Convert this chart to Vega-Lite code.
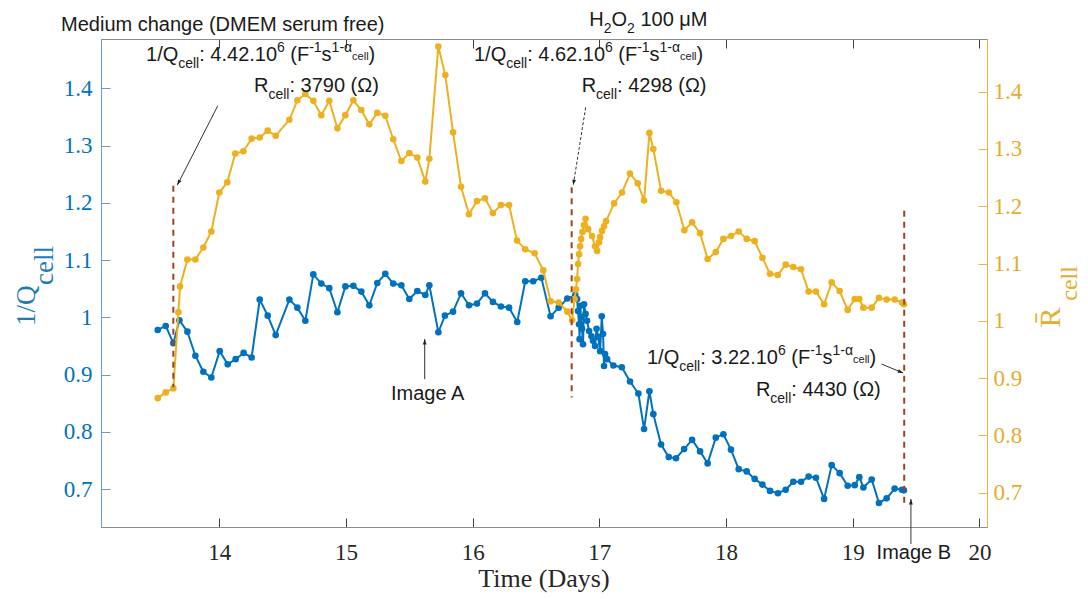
{
"$schema": "https://vega.github.io/schema/vega-lite/v6.json",
"width": 886, "height": 488,
"autosize": {"type": "none"},
"padding": {"left": 101, "top": 39, "right": 101, "bottom": 72},
"background": "white",
"config": {"view": {"stroke": "#8c8c8c", "strokeWidth": 1}, "axis": {"grid": false}},
"datasets": {
"q": [
{"t":13.514,"v":0.978},{"t":13.577,"v":0.985},{"t":13.637,"v":0.955},{"t":13.685,"v":0.995},{"t":13.748,"v":0.975},{"t":13.811,"v":0.933},{"t":13.874,"v":0.905},{"t":13.937,"v":0.895},{"t":14.003,"v":0.941},{"t":14.066,"v":0.918},{"t":14.129,"v":0.927},{"t":14.192,"v":0.938},{"t":14.255,"v":0.930},{"t":14.319,"v":1.031},{"t":14.382,"v":1.003},{"t":14.445,"v":0.969},{"t":14.553,"v":1.031},{"t":14.616,"v":1.017},{"t":14.679,"v":0.994},{"t":14.742,"v":1.075},{"t":14.805,"v":1.059},{"t":14.868,"v":1.051},{"t":14.932,"v":1.009},{"t":14.995,"v":1.054},{"t":15.058,"v":1.055},{"t":15.121,"v":1.045},{"t":15.184,"v":1.021},{"t":15.247,"v":1.060},{"t":15.310,"v":1.076},{"t":15.373,"v":1.059},{"t":15.437,"v":1.056},{"t":15.500,"v":1.032},{"t":15.563,"v":1.046},{"t":15.626,"v":1.039},{"t":15.658,"v":1.056},{"t":15.729,"v":0.974},{"t":15.781,"v":1.003},{"t":15.845,"v":1.010},{"t":15.908,"v":1.042},{"t":15.971,"v":1.021},{"t":16.034,"v":1.024},{"t":16.097,"v":1.042},{"t":16.160,"v":1.027},{"t":16.223,"v":1.019},{"t":16.287,"v":1.017},{"t":16.352,"v":0.992},{"t":16.415,"v":1.063},{"t":16.478,"v":1.063},{"t":16.542,"v":1.069},{"t":16.615,"v":1.002},{"t":16.679,"v":1.017},{"t":16.747,"v":1.033},{"t":16.810,"v":1.039},{"t":16.824,"v":1.032},{"t":16.832,"v":1.011},{"t":16.840,"v":0.988},{"t":16.844,"v":0.962},{"t":16.848,"v":1.020},{"t":16.856,"v":1.000},{"t":16.863,"v":0.980},{"t":16.871,"v":0.953},{"t":16.879,"v":1.023},{"t":16.891,"v":1.006},{"t":16.903,"v":0.994},{"t":16.919,"v":0.976},{"t":16.938,"v":0.967},{"t":16.950,"v":0.959},{"t":16.966,"v":0.950},{"t":16.978,"v":0.980},{"t":16.990,"v":0.966},{"t":17.006,"v":0.941},{"t":17.019,"v":1.002},{"t":17.029,"v":0.971},{"t":17.037,"v":0.915},{"t":17.045,"v":0.936},{"t":17.061,"v":0.927},{"t":17.111,"v":0.916},{"t":17.177,"v":0.913},{"t":17.242,"v":0.888},{"t":17.308,"v":0.867},{"t":17.353,"v":0.805},{"t":17.395,"v":0.871},{"t":17.426,"v":0.831},{"t":17.487,"v":0.778},{"t":17.548,"v":0.756},{"t":17.605,"v":0.754},{"t":17.669,"v":0.770},{"t":17.732,"v":0.786},{"t":17.795,"v":0.766},{"t":17.855,"v":0.745},{"t":17.919,"v":0.790},{"t":17.979,"v":0.796},{"t":18.039,"v":0.769},{"t":18.100,"v":0.735},{"t":18.163,"v":0.731},{"t":18.226,"v":0.718},{"t":18.287,"v":0.708},{"t":18.347,"v":0.697},{"t":18.410,"v":0.693},{"t":18.471,"v":0.699},{"t":18.531,"v":0.713},{"t":18.592,"v":0.713},{"t":18.652,"v":0.722},{"t":18.710,"v":0.720},{"t":18.774,"v":0.683},{"t":18.834,"v":0.742},{"t":18.897,"v":0.728},{"t":18.960,"v":0.706},{"t":19.016,"v":0.707},{"t":19.052,"v":0.721},{"t":19.084,"v":0.703},{"t":19.150,"v":0.717},{"t":19.207,"v":0.676},{"t":19.268,"v":0.684},{"t":19.331,"v":0.701},{"t":19.389,"v":0.699},{"t":19.404,"v":0.698}
],
"r": [
{"t":13.514,"v":0.865},{"t":13.577,"v":0.875},{"t":13.637,"v":0.882},{"t":13.677,"v":1.015},{"t":13.690,"v":1.060},{"t":13.748,"v":1.107},{"t":13.811,"v":1.107},{"t":13.874,"v":1.128},{"t":13.937,"v":1.156},{"t":14.000,"v":1.224},{"t":14.063,"v":1.242},{"t":14.126,"v":1.292},{"t":14.190,"v":1.296},{"t":14.255,"v":1.318},{"t":14.319,"v":1.320},{"t":14.382,"v":1.332},{"t":14.445,"v":1.323},{"t":14.553,"v":1.351},{"t":14.616,"v":1.385},{"t":14.679,"v":1.396},{"t":14.742,"v":1.384},{"t":14.805,"v":1.359},{"t":14.868,"v":1.384},{"t":14.932,"v":1.336},{"t":14.995,"v":1.359},{"t":15.058,"v":1.385},{"t":15.121,"v":1.368},{"t":15.184,"v":1.343},{"t":15.247,"v":1.363},{"t":15.310,"v":1.358},{"t":15.373,"v":1.317},{"t":15.437,"v":1.279},{"t":15.500,"v":1.293},{"t":15.563,"v":1.285},{"t":15.626,"v":1.243},{"t":15.658,"v":1.283},{"t":15.729,"v":1.479},{"t":15.784,"v":1.429},{"t":15.845,"v":1.329},{"t":15.908,"v":1.234},{"t":15.971,"v":1.186},{"t":16.034,"v":1.209},{"t":16.097,"v":1.214},{"t":16.160,"v":1.188},{"t":16.223,"v":1.202},{"t":16.287,"v":1.202},{"t":16.350,"v":1.140},{"t":16.415,"v":1.125},{"t":16.489,"v":1.118},{"t":16.557,"v":1.088},{"t":16.615,"v":1.034},{"t":16.679,"v":1.032},{"t":16.747,"v":1.016},{"t":16.785,"v":1.001},{"t":16.804,"v":1.038},{"t":16.816,"v":1.055},{"t":16.824,"v":1.073},{"t":16.832,"v":1.099},{"t":16.840,"v":1.116},{"t":16.848,"v":1.130},{"t":16.856,"v":1.143},{"t":16.867,"v":1.155},{"t":16.879,"v":1.167},{"t":16.891,"v":1.178},{"t":16.911,"v":1.160},{"t":16.942,"v":1.148},{"t":16.966,"v":1.130},{"t":16.982,"v":1.122},{"t":16.998,"v":1.137},{"t":17.006,"v":1.146},{"t":17.021,"v":1.157},{"t":17.037,"v":1.165},{"t":17.053,"v":1.174},{"t":17.116,"v":1.205},{"t":17.179,"v":1.224},{"t":17.242,"v":1.257},{"t":17.303,"v":1.240},{"t":17.353,"v":1.210},{"t":17.395,"v":1.328},{"t":17.426,"v":1.300},{"t":17.487,"v":1.227},{"t":17.548,"v":1.224},{"t":17.608,"v":1.207},{"t":17.671,"v":1.158},{"t":17.732,"v":1.172},{"t":17.795,"v":1.153},{"t":17.855,"v":1.108},{"t":17.919,"v":1.120},{"t":17.979,"v":1.143},{"t":18.039,"v":1.148},{"t":18.100,"v":1.156},{"t":18.163,"v":1.143},{"t":18.226,"v":1.139},{"t":18.287,"v":1.110},{"t":18.347,"v":1.082},{"t":18.408,"v":1.080},{"t":18.471,"v":1.098},{"t":18.531,"v":1.094},{"t":18.592,"v":1.090},{"t":18.652,"v":1.051},{"t":18.710,"v":1.051},{"t":18.774,"v":1.029},{"t":18.834,"v":1.067},{"t":18.897,"v":1.052},{"t":18.960,"v":1.019},{"t":19.016,"v":1.038},{"t":19.052,"v":1.038},{"t":19.084,"v":1.023},{"t":19.150,"v":1.023},{"t":19.207,"v":1.040},{"t":19.268,"v":1.037},{"t":19.331,"v":1.037},{"t":19.389,"v":1.032},{"t":19.404,"v":1.029}
],
"vl": [
{"x":13.6369,"y":1.2297,"y2":0.878},{"x":16.7814,"y":1.227,"y2":0.860},{"x":19.4065,"y":1.186,"y2":0.671}
],
"arrows": [
{"id":"a1","x":13.9874,"y":1.3693,"x2":13.6685,"y2":1.2309},
{"id":"a2","x":16.8919,"y":1.3666,"x2":16.794,"y2":1.2309},
{"id":"a3","x":19.2281,"y":0.9185,"x2":19.3986,"y2":0.9028},
{"id":"ia","x":15.6212,"y":0.8923,"x2":15.6212,"y2":0.9621},
{"id":"ib","x":19.4594,"y":0.6043,"x2":19.4594,"y2":0.6829}
],
"ann": [
{"x":12.7506,"y":1.4997,"t":"Medium change (DMEM serum free)","k":"main"},
{"x":16.9203,"y":1.509,"t":"H","k":"main"},
{"x":17.0339,"y":1.509,"t":"2","k":"sub"},
{"x":17.0955,"y":1.509,"t":"O","k":"main"},
{"x":17.2186,"y":1.509,"t":"2","k":"sub"},
{"x":17.3241,"y":1.509,"t":"100 μM","k":"main"},
{"x":13.4215,"y":1.4479,"t":"1/Q","k":"main"},
{"x":13.6756,"y":1.4479,"t":"cell","k":"sub"},
{"x":13.8414,"y":1.4479,"t":": 4.42.10","k":"main"},
{"x":14.4554,"y":1.4479,"t":"6","k":"sup"},
{"x":14.5609,"y":1.4479,"t":"(F","k":"main"},
{"x":14.7096,"y":1.4479,"t":"-1","k":"sup"},
{"x":14.8074,"y":1.4479,"t":"s","k":"main"},
{"x":14.8863,"y":1.4479,"t":"1-α","k":"sup"},
{"x":15.0481,"y":1.4479,"t":"cell","k":"subsup"},
{"x":15.1784,"y":1.4479,"t":")","k":"main"},
{"x":14.2739,"y":1.3927,"t":"R","k":"main"},
{"x":14.3875,"y":1.3927,"t":"cell","k":"sub"},
{"x":14.5533,"y":1.3927,"t":": 3790 (Ω)","k":"main"},
{"x":16.0103,"y":1.4474,"t":"1/Q","k":"main"},
{"x":16.2644,"y":1.4474,"t":"cell","k":"sub"},
{"x":16.4302,"y":1.4474,"t":": 4.62.10","k":"main"},
{"x":17.0442,"y":1.4474,"t":"6","k":"sup"},
{"x":17.1497,"y":1.4474,"t":"(F","k":"main"},
{"x":17.2984,"y":1.4474,"t":"-1","k":"sup"},
{"x":17.3962,"y":1.4474,"t":"s","k":"main"},
{"x":17.4751,"y":1.4474,"t":"1-α","k":"sup"},
{"x":17.6369,"y":1.4474,"t":"cell","k":"subsup"},
{"x":17.7672,"y":1.4474,"t":")","k":"main"},
{"x":16.8603,"y":1.3933,"t":"R","k":"main"},
{"x":16.9740,"y":1.3933,"t":"cell","k":"sub"},
{"x":17.1397,"y":1.3933,"t":": 4298 (Ω)","k":"main"},
{"x":17.3757,"y":0.9185,"t":"1/Q","k":"main"},
{"x":17.6298,"y":0.9185,"t":"cell","k":"sub"},
{"x":17.7956,"y":0.9185,"t":": 3.22.10","k":"main"},
{"x":18.4096,"y":0.9185,"t":"6","k":"sup"},
{"x":18.5151,"y":0.9185,"t":"(F","k":"main"},
{"x":18.6638,"y":0.9185,"t":"-1","k":"sup"},
{"x":18.7616,"y":0.9185,"t":"s","k":"main"},
{"x":18.8405,"y":0.9185,"t":"1-α","k":"sup"},
{"x":19.0023,"y":0.9185,"t":"cell","k":"subsup"},
{"x":19.1326,"y":0.9185,"t":")","k":"main"},
{"x":18.2360,"y":0.8632,"t":"R","k":"main"},
{"x":18.3496,"y":0.8632,"t":"cell","k":"sub"},
{"x":18.5154,"y":0.8632,"t":": 4430 (Ω)","k":"main"},
{"x":15.3552,"y":0.8562,"t":"Image A","k":"main"},
{"x":19.1886,"y":0.5781,"t":"Image B","k":"main"},
{"x":16.5627,"y":0.5292,"t":"Time (Days)","k":"xt"},
{"x":12.545,"y":0.9848,"t":"1/Q","k":"lt"},
{"x":12.687,"y":1.0564,"t":"cell","k":"lt"},
{"x":20.635,"y":0.9825,"t":"R̄","k":"rt"},
{"x":20.767,"y":1.029,"t":"cell","k":"rts"}
]
},
"layer": [
{
"data": {"name": "q"},
"mark": {"type": "line", "color": "#0072BD", "strokeWidth": 2, "point": {"filled": true, "size": 44, "color": "#0072BD"}},
"encoding": {
"x": {"field": "t", "type": "quantitative", "scale": {"domain": [13.066, 20.06], "nice": false, "zero": false},
"axis": {"orient": "bottom", "title": null, "values": [14,15,16,17,18,19,20], "labelFont": "Liberation Serif", "labelFontSize": 23, "labelColor": "#262626", "tickSize": -9, "tickColor": "#404040", "domainColor": "#8c8c8c", "labelPadding": 23}},
"y": {"field": "v", "type": "quantitative", "scale": {"domain": [0.634, 1.486], "nice": false, "zero": false},
"axis": {"orient": "left", "title": null, "values": [0.7,0.8,0.9,1,1.1,1.2,1.3,1.4], "format": "~g", "labelFont": "Liberation Serif", "labelFontSize": 23, "labelColor": "#0072BD", "tickSize": -9, "tickColor": "#6f9cc0", "domainColor": "#6f9cc0", "labelPadding": 18}}
}
},
{
"data": {"name": "r"},
"mark": {"type": "line", "color": "#EDB120", "strokeWidth": 2, "point": {"filled": true, "size": 44, "color": "#EDB120"}},
"encoding": {
"x": {"field": "t", "type": "quantitative", "scale": {"domain": [13.066, 20.06], "nice": false, "zero": false},
"axis": {"orient": "top", "title": null, "values": [14,15,16,17,18,19,20], "labels": false, "tickSize": -9, "tickColor": "#404040", "domainColor": "#8c8c8c"}},
"y": {"field": "v", "type": "quantitative", "scale": {"domain": [0.640, 1.492], "nice": false, "zero": false},
"axis": {"orient": "right", "title": null, "values": [0.7,0.8,0.9,1,1.1,1.2,1.3,1.4], "format": "~g", "labelFont": "Liberation Serif", "labelFontSize": 23, "labelColor": "#E2AE2D", "tickSize": -9, "tickColor": "#E2B849", "domainColor": "#E2B849", "labelPadding": 15}}
}
},
{
"layer": [
{
"data": {"name": "vl"},
"mark": {"type": "rule", "color": "#9A4522", "strokeWidth": 2, "strokeDash": [6, 5]},
"encoding": {
"x": {"field": "x", "type": "quantitative", "scale": {"domain": [13.066, 20.06], "nice": false, "zero": false}, "axis": null},
"y": {"field": "y", "type": "quantitative", "scale": {"domain": [0.634, 1.486], "nice": false, "zero": false}, "axis": null},
"y2": {"field": "y2"}
}
},
{
"data": {"name": "arrows"},
"transform": [{"filter": "datum.id !== 'a2'"}],
"mark": {"type": "rule", "color": "#333333", "strokeWidth": 1, "clip": false},
"encoding": {
"x": {"field": "x", "type": "quantitative", "scale": {"domain": [13.066, 20.06], "nice": false, "zero": false}, "axis": null},
"y": {"field": "y", "type": "quantitative", "scale": {"domain": [0.634, 1.486], "nice": false, "zero": false}, "axis": null},
"x2": {"field": "x2"}, "y2": {"field": "y2"}
}
},
{
"data": {"name": "arrows"},
"transform": [{"filter": "datum.id === 'a2'"}],
"mark": {"type": "rule", "color": "#333333", "strokeWidth": 1, "strokeDash": [3, 2]},
"encoding": {
"x": {"field": "x", "type": "quantitative", "scale": {"domain": [13.066, 20.06], "nice": false, "zero": false}, "axis": null},
"y": {"field": "y", "type": "quantitative", "scale": {"domain": [0.634, 1.486], "nice": false, "zero": false}, "axis": null},
"x2": {"field": "x2"}, "y2": {"field": "y2"}
}
},
{
"data": {"name": "arrows"},
"transform": [{"filter": "datum.id === 'a1'"}],
"mark": {"type": "point", "shape": "M0,0L0.45,1.3L-0.45,1.3Z", "filled": true, "color": "#222222", "size": 70, "opacity": 1, "angle": 207},
"encoding": {
"x": {"field": "x2", "type": "quantitative", "scale": {"domain": [13.066, 20.06], "nice": false, "zero": false}, "axis": null},
"y": {"field": "y2", "type": "quantitative", "scale": {"domain": [0.634, 1.486], "nice": false, "zero": false}, "axis": null}
}
},
{
"data": {"name": "arrows"},
"transform": [{"filter": "datum.id === 'a2'"}],
"mark": {"type": "point", "shape": "M0,0L0.45,1.3L-0.45,1.3Z", "filled": true, "color": "#222222", "size": 70, "opacity": 1, "angle": 189},
"encoding": {
"x": {"field": "x2", "type": "quantitative", "scale": {"domain": [13.066, 20.06], "nice": false, "zero": false}, "axis": null},
"y": {"field": "y2", "type": "quantitative", "scale": {"domain": [0.634, 1.486], "nice": false, "zero": false}, "axis": null}
}
},
{
"data": {"name": "arrows"},
"transform": [{"filter": "datum.id === 'a3'"}],
"mark": {"type": "point", "shape": "M0,0L0.45,1.3L-0.45,1.3Z", "filled": true, "color": "#222222", "size": 70, "opacity": 1, "angle": 113},
"encoding": {
"x": {"field": "x2", "type": "quantitative", "scale": {"domain": [13.066, 20.06], "nice": false, "zero": false}, "axis": null},
"y": {"field": "y2", "type": "quantitative", "scale": {"domain": [0.634, 1.486], "nice": false, "zero": false}, "axis": null}
}
},
{
"data": {"name": "arrows"},
"transform": [{"filter": "datum.id === 'ia' || datum.id === 'ib'"}],
"mark": {"type": "point", "shape": "M0,0L0.45,1.3L-0.45,1.3Z", "filled": true, "color": "#222222", "size": 70, "opacity": 1, "angle": 0},
"encoding": {
"x": {"field": "x2", "type": "quantitative", "scale": {"domain": [13.066, 20.06], "nice": false, "zero": false}, "axis": null},
"y": {"field": "y2", "type": "quantitative", "scale": {"domain": [0.634, 1.486], "nice": false, "zero": false}, "axis": null}
}
},
{
"data": {"name": "ann"},
"transform": [{"filter": "datum.k === 'main'"}],
"mark": {"type": "text", "align": "left", "baseline": "alphabetic", "font": "Liberation Sans", "fontSize": 20, "color": "#1a1a1a", "clip": false},
"encoding": {
"x": {"field": "x", "type": "quantitative", "scale": {"domain": [13.066, 20.06], "nice": false, "zero": false}, "axis": null},
"y": {"field": "y", "type": "quantitative", "scale": {"domain": [0.634, 1.486], "nice": false, "zero": false}, "axis": null},
"text": {"field": "t"}
}
},
{
"data": {"name": "ann"},
"transform": [{"filter": "datum.k === 'sub'"}],
"mark": {"type": "text", "align": "left", "baseline": "alphabetic", "font": "Liberation Sans", "fontSize": 14, "dy": 7, "color": "#1a1a1a", "clip": false},
"encoding": {
"x": {"field": "x", "type": "quantitative", "scale": {"domain": [13.066, 20.06], "nice": false, "zero": false}, "axis": null},
"y": {"field": "y", "type": "quantitative", "scale": {"domain": [0.634, 1.486], "nice": false, "zero": false}, "axis": null},
"text": {"field": "t"}
}
},
{
"data": {"name": "ann"},
"transform": [{"filter": "datum.k === 'sup'"}],
"mark": {"type": "text", "align": "left", "baseline": "alphabetic", "font": "Liberation Sans", "fontSize": 14, "dy": -9, "color": "#1a1a1a", "clip": false},
"encoding": {
"x": {"field": "x", "type": "quantitative", "scale": {"domain": [13.066, 20.06], "nice": false, "zero": false}, "axis": null},
"y": {"field": "y", "type": "quantitative", "scale": {"domain": [0.634, 1.486], "nice": false, "zero": false}, "axis": null},
"text": {"field": "t"}
}
},
{
"data": {"name": "ann"},
"transform": [{"filter": "datum.k === 'subsup'"}],
"mark": {"type": "text", "align": "left", "baseline": "alphabetic", "font": "Liberation Sans", "fontSize": 11, "dy": -1, "color": "#1a1a1a", "clip": false},
"encoding": {
"x": {"field": "x", "type": "quantitative", "scale": {"domain": [13.066, 20.06], "nice": false, "zero": false}, "axis": null},
"y": {"field": "y", "type": "quantitative", "scale": {"domain": [0.634, 1.486], "nice": false, "zero": false}, "axis": null},
"text": {"field": "t"}
}
},
{
"data": {"name": "ann"},
"transform": [{"filter": "datum.k === 'xt'"}],
"mark": {"type": "text", "align": "center", "baseline": "alphabetic", "font": "Liberation Serif", "fontSize": 26, "color": "#262626", "clip": false},
"encoding": {
"x": {"field": "x", "type": "quantitative", "scale": {"domain": [13.066, 20.06], "nice": false, "zero": false}, "axis": null},
"y": {"field": "y", "type": "quantitative", "scale": {"domain": [0.634, 1.486], "nice": false, "zero": false}, "axis": null},
"text": {"field": "t"}
}
},
{
"data": {"name": "ann"},
"transform": [{"filter": "datum.k === 'lt'"}],
"mark": {"type": "text", "align": "left", "baseline": "alphabetic", "angle": 270, "font": "Liberation Serif", "fontSize": 27, "color": "#1f7bb8", "clip": false},
"encoding": {
"x": {"field": "x", "type": "quantitative", "scale": {"domain": [13.066, 20.06], "nice": false, "zero": false}, "axis": null},
"y": {"field": "y", "type": "quantitative", "scale": {"domain": [0.634, 1.486], "nice": false, "zero": false}, "axis": null},
"text": {"field": "t"}
}
},
{
"data": {"name": "ann"},
"transform": [{"filter": "datum.k === 'rt'"}],
"mark": {"type": "text", "align": "left", "baseline": "alphabetic", "angle": 270, "font": "Liberation Serif", "fontSize": 30, "color": "#E2AE2D", "clip": false},
"encoding": {
"x": {"field": "x", "type": "quantitative", "scale": {"domain": [13.066, 20.06], "nice": false, "zero": false}, "axis": null},
"y": {"field": "y", "type": "quantitative", "scale": {"domain": [0.634, 1.486], "nice": false, "zero": false}, "axis": null},
"text": {"field": "t"}
}
},
{
"data": {"name": "ann"},
"transform": [{"filter": "datum.k === 'rts'"}],
"mark": {"type": "text", "align": "left", "baseline": "alphabetic", "angle": 270, "font": "Liberation Serif", "fontSize": 24, "color": "#E2AE2D", "clip": false},
"encoding": {
"x": {"field": "x", "type": "quantitative", "scale": {"domain": [13.066, 20.06], "nice": false, "zero": false}, "axis": null},
"y": {"field": "y", "type": "quantitative", "scale": {"domain": [0.634, 1.486], "nice": false, "zero": false}, "axis": null},
"text": {"field": "t"}
}
}
]
}
],
"resolve": {"scale": {"y": "independent"}, "axis": {"x": "independent"}}
}
